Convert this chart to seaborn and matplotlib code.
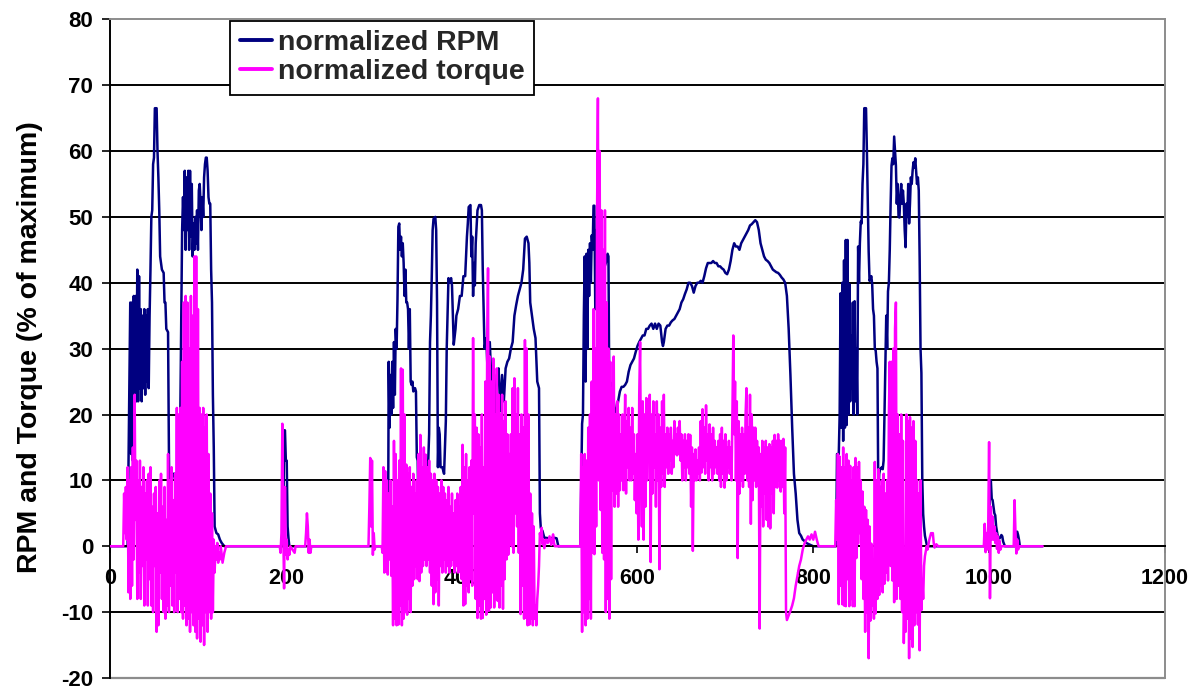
import matplotlib
matplotlib.use("Agg")
import matplotlib.pyplot as plt
import seaborn as sns

# ---------------- data (time in s, value in % of maximum) ----------------
rpm_a = [(0, 0), (20, 0), (21, 12), (22, 25), (23, 37), (24, 14), (25, 37), (26, 13), (27, 38), (28, 20),
         (29, 38), (30, 22), (31, 42), (32, 22), (33, 41), (34, 24), (35, 36), (36, 22), (37, 35), (38, 24),
         (39, 36), (40, 23), (41, 35), (42, 25), (43, 36), (44, 24), (45, 35), (46, 42), (47, 50), (48, 51),
         (49, 58), (50, 59), (51, 66.5), (53, 66.5), (54, 60), (55, 56), (56, 51), (57, 44), (58, 43),
         (59, 42), (61, 41.5), (62, 37), (63, 37), (64, 33), (66, 32.5), (67, 14), (68, 1), (69, 2),
         (70, 10), (72, 11), (74, 11), (75, 5), (76, 10), (77, 11), (78, 6), (79, 7), (80, 21), (81, 36),
         (82, 48), (83, 53), (84, 48), (85, 57), (86, 45), (87, 56), (88, 48), (89, 57), (90, 45), (91, 57),
         (92, 47), (93, 55), (94, 44), (95, 49), (96, 45), (97, 50), (98, 46), (99, 51), (100, 45),
         (101, 54), (102, 55), (103, 52), (104, 48), (105, 53), (106, 50), (107, 56), (108, 58), (109, 59),
         (110, 59), (111, 57), (112, 53), (113, 52), (114, 52), (115, 42), (116, 37), (117, 23), (118, 15),
         (119, 3), (121, 2), (123, 1.8), (125, 1), (127, 0.5), (130, 0)]
rpm_b = [(197, 0), (198, 17.6), (199, 17.6), (200, 13), (201, 13), (202, 3), (203, 1.2), (204, 0)]
rpm_c = [(316, 0), (316.6, 12), (317, 28), (318, 18), (319, 26), (320, 20), (321, 28), (322, 21), (323, 31),
         (324, 23), (325, 33), (326, 30), (327, 37.5), (328, 48.5), (329, 49), (330, 45), (331, 47),
         (332, 44), (333, 46), (334, 43), (335, 38), (336, 42), (337, 37), (338, 37), (339, 36), (340, 30),
         (341, 36), (342, 25), (343, 24.5), (344, 25), (345, 23.5), (347, 24), (348, 23.5), (349, 13.5),
         (350, 13), (351, 3), (352, 3.5), (354, 1.5), (356, 1), (358, 0.8), (360, 12), (362, 13), (363, 17),
         (364, 31), (365, 35), (366, 41), (367, 48), (368, 49.7), (370, 50), (371, 48), (372, 37), (373, 12),
         (374, 18), (375, 17), (376, 12), (378, 12), (380, 11), (382, 19), (383, 30), (385, 40.7), (386, 40),
         (388, 40.7), (389, 39.6), (391, 30.6), (393, 33), (394, 35), (396, 36), (398, 38), (400, 38),
         (402, 41), (404, 41), (406, 47), (407, 49), (408, 51.5), (410, 51.8), (411, 44), (412, 47),
         (413, 38), (414, 43), (415, 39.6), (416, 46), (418, 51), (420, 51.8), (422, 51.8), (423, 51),
         (424, 42), (426, 30), (428, 31.6), (430, 25), (432, 31), (434, 24.5), (436, 27), (438, 19.4),
         (440, 26), (442, 27), (444, 20.5), (446, 26), (448, 22), (450, 27), (452, 28), (454, 28.5),
         (456, 30), (458, 31), (460, 35), (462, 36.6), (464, 38), (466, 39), (468, 40), (470, 42),
         (472, 46.7), (474, 47), (476, 46), (477, 43), (478, 37), (480, 35), (482, 33), (484, 31.6),
         (486, 25), (488, 24), (489, 5), (490, 2.8), (492, 2.3), (494, 1.3), (500, 1.2), (505, 1.3),
         (508, 1.2), (510, 0)]
rpm_d = [(535, 0), (537, 18.6), (538, 20), (539, 35), (540, 44), (541, 25), (542, 44.4), (543, 30), (544, 45),
         (545, 38), (546, 46), (547, 40), (548, 47.2), (549, 45), (550, 51.7), (551, 51.7), (552, 36),
         (553, 48), (554, 42), (556, 43), (558, 40), (560, 42), (562, 42.2), (564, 43), (566, 44.4),
         (567, 44), (568, 22), (570, 24.8), (572, 23), (574, 21), (576, 20.3), (578, 22), (580, 23.5),
         (582, 24.2), (584, 24.2), (586, 24.5), (588, 25), (590, 26.5), (592, 27.5), (594, 28), (596, 28.5),
         (598, 29.5), (600, 30.4), (602, 31), (604, 31.5), (606, 32), (608, 32), (610, 33), (612, 33),
         (614, 33.5), (616, 33.8), (618, 33), (620, 33.8), (622, 33), (624, 33.8), (626, 33.5), (628, 31),
         (629, 30.4), (630, 31), (632, 33), (634, 33.5), (636, 33.5), (638, 34), (640, 34.3), (642, 34.5),
         (644, 35), (646, 35.5), (648, 36), (650, 37), (652, 37.5), (654, 38.3), (656, 39), (658, 40),
         (660, 40), (662, 39.5), (664, 38.5), (666, 39.5), (668, 40), (670, 40), (672, 40.3), (674, 40),
         (676, 41), (678, 42.2), (680, 43), (682, 43), (684, 43), (686, 43.3), (688, 43), (690, 43),
         (692, 42.5), (694, 42.5), (696, 42.2), (698, 42), (700, 41.5), (702, 41.3), (704, 42), (706, 43.3),
         (708, 45), (710, 46), (712, 45.5), (714, 45.5), (716, 45), (718, 46), (720, 46.5), (722, 47),
         (724, 47.5), (726, 48), (728, 48.7), (730, 48.9), (732, 49.2), (734, 49.5), (736, 49.2), (738, 48),
         (740, 46), (742, 45), (744, 44), (746, 43.5), (748, 43.3), (750, 43), (752, 42.5), (754, 42),
         (756, 41.8), (758, 41.6), (760, 41.5), (762, 41.2), (764, 40.8), (766, 40.5), (768, 40), (770, 38),
         (772, 33), (774, 26), (776, 18), (778, 11), (780, 8), (782, 4), (784, 2), (786, 1.6), (788, 1),
         (790, 0.8), (792, 0.5), (795, 0.3), (800, 0)]
rpm_e = [(826, 0), (827, 14), (828, 13.9), (829, 14), (830, 20), (831, 38.4), (832, 18), (833, 40), (834, 16),
         (835, 43.4), (836, 18), (837, 46.5), (838, 18.4), (839, 46.5), (840, 20), (841, 39.8), (842, 22),
         (843, 32), (844, 24), (845, 37), (846, 20), (847, 37.2), (848, 22), (849, 30), (850, 20),
         (851, 45.5), (852, 40), (853, 46), (854, 49.3), (855, 49), (856, 55), (857, 58), (858, 66.5),
         (860, 66.5), (861, 60), (862, 52), (863, 44.8), (864, 40.3), (866, 41), (867, 39.8), (868, 36),
         (869, 35), (870, 30), (871, 29.7), (872, 28), (873, 27), (874, 7.2), (875, 11), (876, 11.7),
         (878, 12), (879, 11.7), (880, 13), (881, 20), (882, 28), (883, 35), (884, 30), (885, 38.7),
         (886, 40), (887, 45), (888, 52), (889, 57.8), (890, 58.9), (891, 58), (892, 62.2), (893, 60),
         (894, 57.8), (895, 52), (896, 55), (897, 50), (898, 49.9), (899, 53), (900, 55), (901, 52),
         (902, 54), (903, 52), (904, 48), (905, 45.4), (906, 52), (907, 50), (908, 55), (909, 49), (910, 52),
         (911, 56), (912, 55), (913, 57), (914, 58.3), (915, 57.5), (916, 58.9), (917, 57), (918, 55),
         (919, 56), (920, 54), (921, 43.7), (922, 30), (923, 26.3), (924, 10), (925, 4.9), (926, 3),
         (927, 1.6), (929, 0.3), (931, 0)]
rpm_f = [(1000, 0), (1001, 10), (1002, 10), (1003, 7.2), (1004, 7), (1006, 5), (1007, 4.7), (1008, 3),
         (1010, 1.4), (1012, 1.2), (1014, 1.7), (1015, 1.5), (1016, 0.7), (1018, 0), (1030, 0), (1031, 2.2),
         (1032, 2.2), (1033, 1.7), (1034, 1), (1035, 0), (1061, 0)]

trq_a = [(0, 0), (15, 0), (16, 8), (17, 2), (18, 9), (19, 1), (20, 12), (21, -7), (22, 10), (23, -8), (24, 12),
         (25, -6), (26, 15), (27, -2), (28, 23), (29, 4), (30, 13), (31, -8), (32, 10), (33, -4), (34, 13),
         (35, -8), (36, 9), (37, -3), (38, 12), (39, -9), (40, 8), (41, -2), (42, 10), (43, -9), (44, 11),
         (45, -5), (46, 12), (47, -9), (48, 6), (49, -10), (50, 8), (51, -3), (52, 9), (53, -13), (54, 5),
         (55, -12), (56, 10), (57, -4), (58, 11), (59, -8), (60, 6), (61, -10), (62, 9), (63, -11), (64, 4),
         (65, -9), (66, 14), (67, -10), (68, 10), (69, -6), (70, 12), (71, -9), (72, 7), (73, -10), (74, 11),
         (75, -4), (76, 21), (77, -10), (78, 20), (79, -8), (80, 21), (81, -10), (82, 28), (83, -11),
         (84, 37), (85, -9), (86, 38), (87, -12), (88, 37), (89, -11), (90, 30), (91, -13), (92, 38),
         (93, -10), (94, 35), (95, -12), (96, 44), (97, -13), (98, 44), (99, -14), (100, 36), (101, -11),
         (102, 21), (103, -14.5), (104, 20), (105, -12), (106, 21), (107, -15), (108, 18), (109, -10),
         (110, 20), (111, -13), (112, 14), (113, -10), (114, 8), (115, -11), (116, 5), (117, -10), (118, 1),
         (119, -4), (120, 0), (121, -2), (122, 0.5), (123, -2.5), (124, -1), (125, -2), (126, 0),
         (128, -2.5), (130, -1), (132, 0)]
trq_b = [(193, 0), (194, -1), (195, 2), (196, 18.6), (197, 3), (198, -6.4), (199, 9), (200, -1.3), (201, 1),
         (202, -2), (203, -0.5), (204, -1.3), (205, 0), (210, -1), (211, 0), (222, 0), (223, 2), (224, 5),
         (225, 3), (226, -1), (227, 1), (228, -1), (229, 0)]
trq_c = [(294, 0), (295, 6), (296, 13.4), (297, 3), (298, 13), (299, -1.3), (300, 2), (301, -0.5), (302, 0),
         (309, 0), (310, -1), (311, 12), (312, -4), (313, 11.4), (314, -3.8), (315, 10), (316, -4.3),
         (317, 8), (318, -2), (319, 10), (320, -4.5), (321, 6), (322, -12), (323, 16), (324, -11), (325, 14),
         (326, -12), (327, 10), (328, -11.9), (329, 13), (330, -9), (331, 27), (332, -12), (333, 26.8),
         (334, -11), (335, 20), (336, -10), (337, 12.4), (338, -10.4), (339, 11), (340, -8), (341, 12),
         (342, -10), (343, 9), (344, -6), (345, 11), (346, -5), (347, 8), (348, -3), (349, 10), (350, -5),
         (351, 14), (352, -5.3), (353, 16.9), (354, -4), (355, 12), (356, -3), (357, 15), (358, -2),
         (359, 13.9), (360, -3), (361, 12), (362, -2), (363, 13), (364, -4), (365, 11), (366, -6), (367, 10),
         (368, -8.8), (369, 11), (370, -7), (371, 10), (372, -5), (373, 9), (374, -9), (375, 8), (376, -3),
         (377, 10), (378, -4), (379, 9), (380, -2), (381, 8), (382, -4), (383, 7), (384, -3), (385, 9),
         (386, -4), (387, 6), (388, -3), (389, 8), (390, -2), (391, 5), (392, -4), (393, 7), (394, -3),
         (395, 8), (396, -4), (397, 6), (398, -3.8), (399, 9), (400, -5), (401, 15.4), (402, -9), (403, 12),
         (404, -8.8), (405, 14), (406, -6), (407, 10), (408, -7), (409, 12), (410, -5), (411, 13), (412, -6),
         (413, 31.6), (414, 5), (415, 20), (416, -8), (417, 18), (418, -10.9), (419, 17), (420, -9),
         (421, 15), (422, -11), (423, 20), (424, -10.9), (425, 12), (426, -8), (427, 25), (428, -10.4),
         (429, 30), (430, 42.2), (431, -9.8), (432, 28.8), (433, -9.3), (434, 25), (435, -7), (436, 28.5),
         (437, -9.3), (438, 20), (439, -8), (440, 27), (441, -8.3), (442, 23), (443, -9.3), (444, 20),
         (445, -6), (446, 23), (447, -9.5), (448, 19), (449, -5), (450, 22), (451, -2), (452, 17),
         (453, -1.3), (454, 14), (455, 2.8), (456, 17), (457, 0), (458, 24), (459, -1), (460, 25.5),
         (461, 5), (462, 20), (463, 3), (464, 24), (465, -1), (466, 17), (467, -10.3), (468, 20), (469, -6),
         (470, 18), (471, -11), (472, 31.3), (473, -10.8), (474, 30), (475, -12), (476, 20), (477, -11.9),
         (478, 8), (479, -11), (480, 5), (481, -12), (482, 3), (483, -11), (484, -9), (485, -12), (486, -8),
         (487, -6), (488, -3), (489, 2), (490, 1), (491, 2.8), (492, 0.3), (493, 1), (494, -0.3), (496, 1),
         (498, 0.5), (500, 1.5), (502, 0.2), (504, 1.8), (505, 0.5), (506, 0)]
trq_d = [(535, 0), (536, 14), (537, -13), (538, 12), (539, -10), (540, 14), (541, -12), (542, 13), (543, -11),
         (544, 18), (545, -8), (546, 20), (547, -11), (548, 25), (549, -1), (550, 36), (551, -1.2),
         (552, 30), (553, 3), (554, 50), (555, 68), (556, 10), (557, 60), (558, 5.5), (559, 51), (560, -1),
         (561, 45), (562, -2), (563, 51), (564, -10), (565, 37), (566, -8), (567, 30), (568, -11), (569, 28),
         (570, -5), (571, 24), (572, 8.5), (573, 28.8), (574, 6), (575, 20), (576, 8), (577, 22), (578, 6),
         (579, 20), (580, 8.5), (581, 17), (582, 10), (583, 20), (584, 8.5), (585, 14), (586, 23), (587, 8),
         (588, 19), (589, 12), (590, 21), (591, 10), (592, 18), (593, 10), (594, 21), (595, 11), (596, 17),
         (597, 7), (598, 14), (599, 5), (600, 17), (601, 1), (602, 23), (603, 31), (604, 12), (605, 3),
         (606, 22), (607, 1), (608, 20), (609, 6), (610, 22.5), (611, 10), (612, 18), (613, 14), (614, 23),
         (615, -2.4), (616, 20), (617, 8), (618, 22), (619, 12), (620, 17), (621, 6), (622, 22), (623, 10),
         (624, 20), (625, -3.5), (626, 18), (627, 9), (628, 22), (629, 11), (630, 23), (631, 9), (632, 17),
         (633, 12), (634, 18), (635, 11), (636, 17), (637, 13), (638, 18), (639, 11), (640, 16), (641, 12),
         (642, 19), (643, 14), (644, 17), (645, 13.8), (646, 18), (647, 14), (648, 19), (649, 13), (650, 17),
         (651, 10), (652, 16), (653, 12), (654, 17), (655, 10), (656, 16), (657, 12), (658, 17), (659, 11),
         (660, 16.9), (661, 6), (662, 15), (663, -0.7), (664, 14), (665, 10), (666, 14.7), (667, 10),
         (668, 13), (669, 11), (670, 15), (671, 10), (672, 19), (673, 11.2), (674, 20.8), (675, 12),
         (676, 18), (677, 11), (678, 21.4), (679, 13), (680, 17), (681, 10), (682, 18.5), (683, 12),
         (684, 17), (685, 10), (686, 18), (687, 11), (688, 16), (689, 12), (690, 15), (691, 11), (692, 16),
         (693, 10), (694, 17), (695, 9), (696, 18), (697, 11), (698, 16), (699, 8.9), (700, 17), (701, 10),
         (702, 15), (703, 12), (704, 16), (705, 11), (706, 15), (707, 10), (708, 20), (709, 32), (710, 17),
         (711, 25), (712, 10), (713, 22), (714, -1.8), (715, 19), (716, 8), (717, 17), (718, 10), (719, 18),
         (720, 9), (721, 17), (722, 11), (723, 20), (724, 24), (725, 10), (726, 18), (727, 9), (728, 23),
         (729, 3.4), (730, 20), (731, 7), (732, 18), (733, 10), (734, 18), (735, 9), (736, 16), (737, 11),
         (738, 15), (739, -12.5), (740, 14), (741, 6), (742, 16), (743, 3), (744, 15), (745, 8), (746, 16),
         (747, 4), (748, 15), (749, 3), (750, 15.5), (751, 2.7), (752, 15), (753, 8), (754, 16), (755, 5),
         (756, 16.9), (757, 9), (758, 16), (759, 8.9), (760, 17), (761, 10), (762, 16), (763, 8.3),
         (764, 16), (765, 9), (766, 16.3), (767, 5), (768, 15), (769, -10), (770, -11.2), (772, -10.5),
         (774, -9.8), (776, -9), (778, -7.9), (780, -6), (782, -4.5), (784, -3), (786, -2), (788, -0.5),
         (790, 0.4), (792, 1), (794, 1.5), (796, 1), (798, 1.8), (800, 1), (802, 2.2), (804, 1), (806, 0)]
trq_e = [(825, 0), (826, 7), (827, 1), (828, 14), (829, -8.8), (830, 13.6), (831, -6), (832, 12), (833, -8.8),
         (834, 15), (835, -9), (836, 12), (837, -9.1), (838, 14), (839, -5), (840, 13), (841, -9.1),
         (842, 12.2), (843, -8), (844, 10), (845, -9.1), (846, 12), (847, -9.1), (848, 13.4), (849, -1.8),
         (850, 12), (851, 0.4), (852, 12.8), (853, 2), (854, 10), (855, -5), (856, 8.3), (857, -8), (858, 6),
         (859, -13), (860, 5.5), (861, -10), (862, 4), (863, -17), (864, 3), (865, -11.3), (866, 0.4),
         (867, -9), (868, -2), (869, -11), (870, 12.8), (871, -10.2), (872, 10), (873, -8), (874, 11.7),
         (875, -7.4), (876, 9), (877, -6), (878, 10), (879, -7), (880, 11), (881, -5.7), (882, 8), (883, -4),
         (884, 10), (885, -5.2), (886, 20), (887, 28), (888, -3), (889, 28), (890, -5.2), (891, 30),
         (892, -8.5), (893, 33), (894, 37), (895, -8), (896, 20), (897, -6), (898, 17), (899, -8), (900, 20),
         (901, -10), (902, 16), (903, -14.7), (904, -5), (905, -13), (906, 20), (907, -11), (908, 19),
         (909, -17), (910, 19.6), (911, -14), (912, 18), (913, -15.3), (914, 19), (915, -12), (916, 16),
         (917, -10), (918, 10), (919, -11.9), (920, 8), (921, -15.8), (922, 10), (923, -9.7), (924, -5),
         (925, -8), (926, -3), (927, -1.5), (928, -0.7), (929, 0), (930, -0.5), (932, 1), (934, 2),
         (935, 1.8), (936, 2), (937, 0.5), (938, -0.2), (940, 0.3), (942, 0)]
trq_f = [(994, 0), (995, 3.4), (996, -0.9), (997, 2), (998, -0.5), (999, 3), (1000, 15.8), (1001, -7.9),
         (1002, 6), (1003, 1), (1004, 4.5), (1005, 1), (1006, 3), (1007, 0.5), (1008, 2), (1009, -0.4),
         (1010, 1.5), (1011, -1), (1012, 0.8), (1013, -0.5), (1014, 0), (1028, 0), (1029, 7), (1030, 2.2),
         (1031, -1.1), (1032, 1), (1033, -0.5), (1034, 0), (1061, 0)]

series_labels = ["normalized RPM", "normalized torque"]
x_ticks = [0, 200, 400, 600, 800, 1000, 1200]
y_ticks = [-20, -10, 0, 10, 20, 30, 40, 50, 60, 70, 80]


def unpack(*segments):
    xs = [p[0] for seg in segments for p in seg]
    ys = [p[1] for seg in segments for p in seg]
    return xs, ys


rpm_x, rpm_y = unpack(rpm_a, rpm_b, rpm_c, rpm_d, rpm_e, rpm_f)
trq_x, trq_y = unpack(trq_a, trq_b, trq_c, trq_d, trq_e, trq_f)

# ---------------- style ----------------
sns.set_theme(style="white")
plt.rcParams["font.family"] = ["Liberation Sans", "DejaVu Sans"]

fig, ax = plt.subplots(figsize=(11.96, 6.89), dpi=100)
fig.subplots_adjust(left=0.092, right=0.974, top=0.972, bottom=0.016)

for v in y_ticks[1:-1]:
    ax.axhline(v, color="black", lw=1.4, zorder=0.5)

sns.lineplot(x=rpm_x, y=rpm_y, ax=ax, color="#000080", lw=1.8, estimator=None, sort=False,
             label=series_labels[0], zorder=2)
sns.lineplot(x=trq_x, y=trq_y, ax=ax, color="#FF00FF", lw=1.8, estimator=None, sort=False,
             label=series_labels[1], zorder=3)

ax.set_xlim(0, 1200)
ax.set_ylim(-20, 80)

# axis placement first (moving a spine resets tick formatting)
ax.spines["bottom"].set_position(("data", 0))
ax.spines["bottom"].set_color("black")
ax.spines["bottom"].set_linewidth(1.4)
ax.spines["left"].set_color("black")
ax.spines["left"].set_linewidth(1.4)
for s in ("top", "right"):
    ax.spines[s].set_color("#8c8c8c")
    ax.spines[s].set_linewidth(1.4)
ax.axhline(-20, color="#8c8c8c", lw=1.6, clip_on=False, zorder=1)

ax.set_xticks(x_ticks)
ax.set_yticks(y_ticks)
ax.set_xticklabels([str(t) for t in x_ticks])
ax.set_yticklabels([str(t) for t in y_ticks])
ax.tick_params(axis="x", direction="out", length=5, width=1.2, color="black", pad=11, bottom=True,
               labelsize=15.5, labelcolor="black")
ax.tick_params(axis="y", direction="out", length=6, width=1.2, color="black", pad=6, left=True,
               labelsize=16, labelcolor="black")
for lab in ax.get_xticklabels() + ax.get_yticklabels():
    lab.set_fontweight("bold")

ax.set_xlabel("")
ax.set_ylabel("RPM and Torque (% of maximum)", fontsize=20.5, fontweight="bold", color="black")
ax.yaxis.set_label_coords(-0.064, 0.503)

leg = ax.legend(loc="upper left", bbox_to_anchor=(0.114, 0.998), frameon=True, fancybox=False,
                edgecolor="black", framealpha=1, borderaxespad=0, handlelength=1.15,
                handletextpad=0.2, borderpad=0.33, labelspacing=0.12,
                prop={"weight": "bold", "size": 20.5})
leg.get_frame().set_linewidth(1.3)
for line in leg.get_lines():
    line.set_linewidth(2.8)

fig.savefig("out.png", dpi=100)
